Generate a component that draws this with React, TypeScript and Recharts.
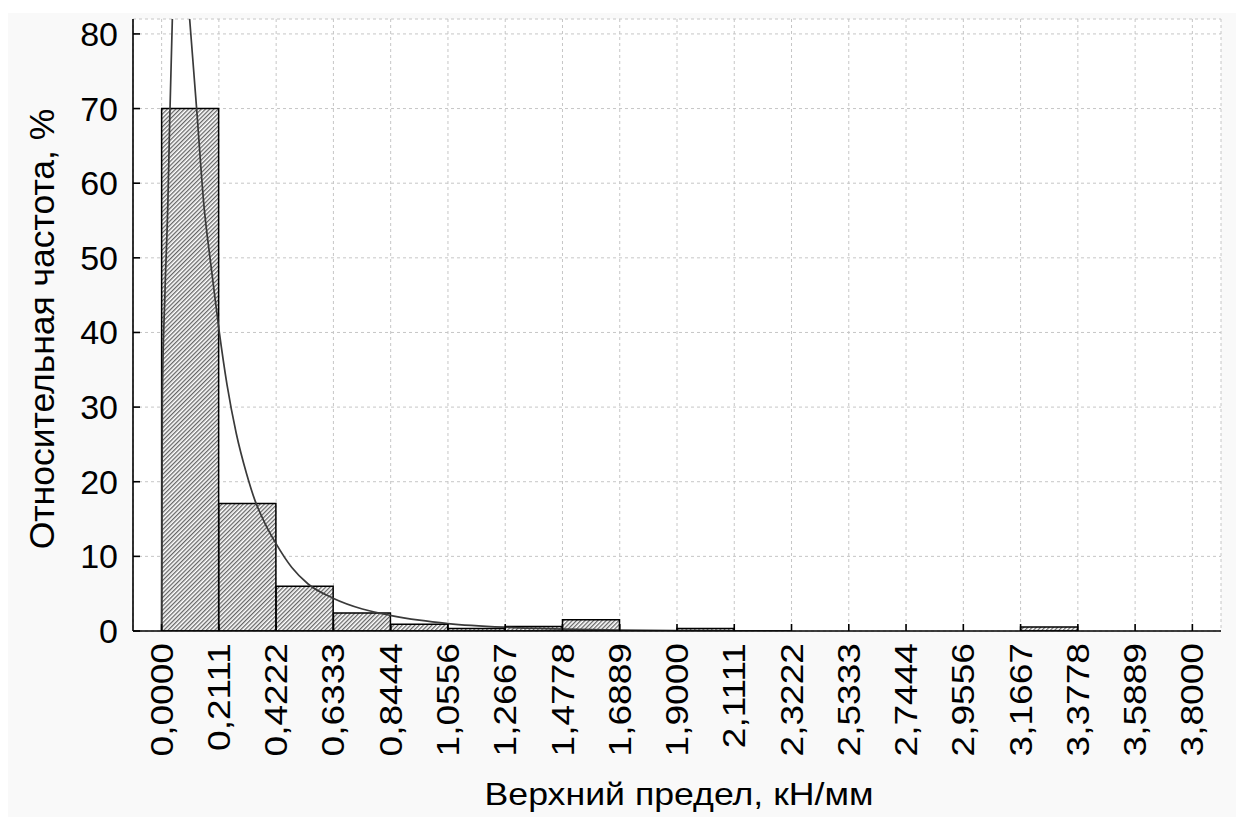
import React from 'react';
import { ComposedChart, Bar, Line, XAxis, YAxis, CartesianGrid } from 'recharts';

const FONT = '"Liberation Sans", Arial, Helvetica, sans-serif';

// Bin edges (upper limits) as printed on the x axis
const binEdges = [0, 0.2111, 0.4222, 0.6333, 0.8444, 1.0556, 1.2667, 1.4778, 1.6889, 1.9, 2.1111, 2.3222, 2.5333, 2.7444, 2.9556, 3.1667, 3.3778, 3.5889, 3.8];
const xTickLabels = ['0,0000', '0,2111', '0,4222', '0,6333', '0,8444', '1,0556', '1,2667', '1,4778', '1,6889', '1,9000', '2,1111', '2,3222', '2,5333', '2,7444', '2,9556', '3,1667', '3,3778', '3,5889', '3,8000'];
// Relative frequency per bin, %
const binFreq = [70, 17.1, 6.0, 2.4, 0.9, 0.35, 0.6, 1.5, 0, 0.35, 0, 0, 0, 0, 0, 0.55, 0, 0];
const yTicks = [0, 10, 20, 30, 40, 50, 60, 70, 80];

// Fitted curve
const curveX = [0, 0.0026, 0.012, 0.0232, 0.0295, 0.0395, 0.052, 0.065, 0.08, 0.1033, 0.129, 0.156, 0.18, 0.2116, 0.241, 0.275, 0.3137, 0.344, 0.38, 0.4218, 0.48, 0.54, 0.632, 0.74, 0.842, 0.95, 1.056, 1.266, 1.48, 1.69, 1.9, 2.11, 2.32];
const curveY = [0, 31, 45, 57.6, 68, 82, 93, 96, 93, 82, 70, 57, 49.5, 40.3, 33, 26.5, 21, 17.5, 14.5, 11.7, 8.5, 6.3, 4.4, 2.95, 2.1, 1.45, 1.0, 0.5, 0.25, 0.13, 0.07, 0.03, 0.01];

const bars = binFreq.map((f, i) => ({ x: (binEdges[i] + binEdges[i + 1]) / 2, freq: f }));
const curve = curveX.map((x, i) => ({ x, y: curveY[i] }));

const halfBin = (binEdges[1] - binEdges[0]) / 2;
const xDomain: [number, number] = [binEdges[0] - halfBin, binEdges[binEdges.length - 1] + halfBin];

const XTick = (props: any) => {
  const { x, y, payload } = props;
  const idx = binEdges.indexOf(payload.value);
  const label = idx >= 0 ? xTickLabels[idx] : String(payload.value);
  return (
    <g transform={`translate(${x}, ${y}) rotate(-90) scale(1.16, 1)`}>
      <text x={0} y={0} textAnchor="end" dominantBaseline="central" fontFamily={FONT} fontSize={32} fill="#000">
        {label}
      </text>
    </g>
  );
};

const YTick = (props: any) => {
  const { x, y, payload } = props;
  return (
    <text x={x} y={y} textAnchor="end" dominantBaseline="central" fontFamily={FONT} fontSize={34} fill="#000">
      {payload.value}
    </text>
  );
};

const XTitle = (props: any) => {
  const vb = props.viewBox || { x: 125, y: 618, width: 1088, height: 186 };
  const cx = vb.x + vb.width / 2 + 2;
  const cy = vb.y + 174;
  return (
    <g transform={`translate(${cx}, ${cy}) scale(1.115, 1)`}>
      <text x={0} y={0} textAnchor="middle" fontFamily={FONT} fontSize={32} fill="#000">
        Верхний предел, кН/мм
      </text>
    </g>
  );
};

const YTitle = (props: any) => {
  const vb = props.viewBox || { x: 0, y: 6, width: 125, height: 612 };
  const cx = 46;
  const cy = vb.y + vb.height / 2 + 4;
  return (
    <text x={cx} y={cy} transform={`rotate(-90, ${cx}, ${cy})`} textAnchor="middle" fontFamily={FONT} fontSize={35.5} fill="#000">
      Относительная частота, %
    </text>
  );
};

export default function App() {
  return (
    <div style={{ paddingTop: 5 }}>
      <div style={{ width: 1236, height: 804, background: '#f9f9f9' }}>
        <ComposedChart width={1236} height={804} data={bars} margin={{ top: 6, right: 23, bottom: 0, left: 0 }}
          barCategoryGap={0} barGap={0}>
          <defs>
            <pattern id="hatch" patternUnits="userSpaceOnUse" width={3} height={3} patternTransform="rotate(45)">
              <rect x={0} y={0} width={3} height={3} fill="#ffffff" />
              <line x1={0.7} y1={0} x2={0.7} y2={3} stroke="#4a4a4a" strokeWidth={1.1} />
            </pattern>
          </defs>
          <CartesianGrid xAxisId="main" yAxisId="left" strokeDasharray="3 3" stroke="#c6c6c6" strokeWidth={1} fill="#ffffff" />
          <XAxis xAxisId="main" dataKey="x" type="number" domain={xDomain} allowDataOverflow ticks={binEdges}
            interval={0} tickSize={-7} tickMargin={19} height={186} stroke="#000" strokeWidth={1.6}
            tick={<XTick />} label={<XTitle />} />
          <XAxis xAxisId="top" orientation="top" dataKey="x" type="number" domain={xDomain} allowDataOverflow ticks={binEdges}
            interval={0} tickSize={-7} height={0} stroke="#000" strokeWidth={1.6} tick={false} />
          <YAxis yAxisId="left" type="number" domain={[0, 82]} allowDataOverflow ticks={yTicks} interval={0}
            tickSize={-7} tickMargin={22} width={125} stroke="#000" strokeWidth={1.6} tick={<YTick />} label={<YTitle />} />
          <YAxis yAxisId="right" orientation="right" type="number" domain={[0, 82]} allowDataOverflow ticks={yTicks}
            interval={0} tickSize={-7} width={0} stroke="#000" strokeWidth={1.6} tick={false} />
          <Bar xAxisId="main" yAxisId="left" dataKey="freq" fill="url(#hatch)" stroke="#000" strokeWidth={1.5}
            isAnimationActive={false} />
          <Line xAxisId="top" yAxisId="left" data={curve} dataKey="y" type="monotone" dot={false} activeDot={false}
            stroke="#3a3a3a" strokeWidth={1.7} isAnimationActive={false} />
        </ComposedChart>
      </div>
    </div>
  );
}
